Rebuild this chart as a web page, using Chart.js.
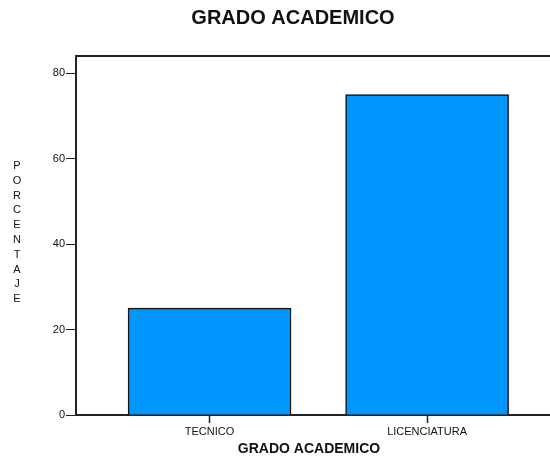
<!DOCTYPE html>
<html>
<head>
<meta charset="utf-8">
<script src="https://cdn.jsdelivr.net/npm/chart.js@4"></script>
<style>
  html, body { margin: 0; padding: 0; background: #fff; }
  #wrap { position: relative; width: 550px; height: 459px; }
</style>
</head>
<body>
<div id="wrap"><canvas id="chart"></canvas></div>
<script>
// ── données ───────────────────────────────────────────────────────────────
const categories = ["TECNICO", "LICENCIATURA"];
const porcentajes = [25, 75];
const yTicks = [0, 20, 40, 60, 80];

const FONT = "'Liberation Sans', Arial, sans-serif";
const INK = "#111";

// titres dessinés à la main (titre principal, axe X, axe Y lettre par lettre)
const titles = {
  id: "titles",
  afterDraw(chart) {
    const { ctx, chartArea } = chart;
    ctx.save();
    ctx.fillStyle = INK;
    ctx.textAlign = "center";
    ctx.textBaseline = "middle";

    ctx.font = "bold 20px " + FONT;
    ctx.fillText("GRADO ACADEMICO", 293, 18);

    ctx.font = "bold 14px " + FONT;
    ctx.fillText("GRADO ACADEMICO", 309, 449);

    ctx.font = "11px " + FONT;
    const letters = "PORCENTAJE".split("");
    letters.forEach((l, i) => ctx.fillText(l, 17, 166 + i * 14.8));

    // trait du haut du cadre
    ctx.strokeStyle = "#222";
    ctx.lineWidth = 2;
    ctx.beginPath();
    ctx.moveTo(chartArea.left - 1, chartArea.top);
    ctx.lineTo(chartArea.right, chartArea.top);
    ctx.stroke();
    ctx.restore();
  },
};

new Chart(document.getElementById("chart"), {
  type: "bar",
  data: {
    datasets: [
      {
        data: porcentajes.map((v, i) => ({ x: i + 1, y: v })),
        backgroundColor: "#0096ff",
        borderColor: "#111",
        borderWidth: 1.5,
        barThickness: 163,
      },
    ],
  },
  options: {
    responsive: true,
    maintainAspectRatio: false,
    animation: false,
    layout: { padding: { top: 56, left: 0, right: 0, bottom: 0 } },
    plugins: { legend: { display: false }, tooltip: { enabled: false }, title: { display: false } },
    scales: {
      x: {
        type: "linear",
        offset: false,
        min: 0.386,
        max: 2.565,
        afterFit: (s) => { s.height = 44; },
        afterBuildTicks: (s) => { s.ticks = categories.map((_, i) => ({ value: i + 1 })); },
        ticks: {
          color: INK,
          font: { family: FONT, size: 11 },
          padding: 2,
          maxRotation: 0,
          callback: (v) => categories[v - 1],
        },
        grid: { offset: false, drawOnChartArea: false, drawTicks: true, tickLength: 8, color: "#222", tickWidth: 1.5 },
        border: { display: true, color: "#222", width: 2 },
      },
      y: {
        min: 0,
        max: 84,
        afterFit: (s) => { s.width = 76; },
        afterBuildTicks: (s) => { s.ticks = yTicks.map((v) => ({ value: v })); },
        ticks: {
          color: INK,
          font: { family: FONT, size: 11 },
          padding: 1,
        },
        grid: { drawOnChartArea: false, drawTicks: true, tickLength: 10, color: "#222", tickWidth: 1 },
        border: { display: true, color: "#222", width: 2 },
      },
    },
  },
  plugins: [titles],
});
</script>
</body>
</html>
